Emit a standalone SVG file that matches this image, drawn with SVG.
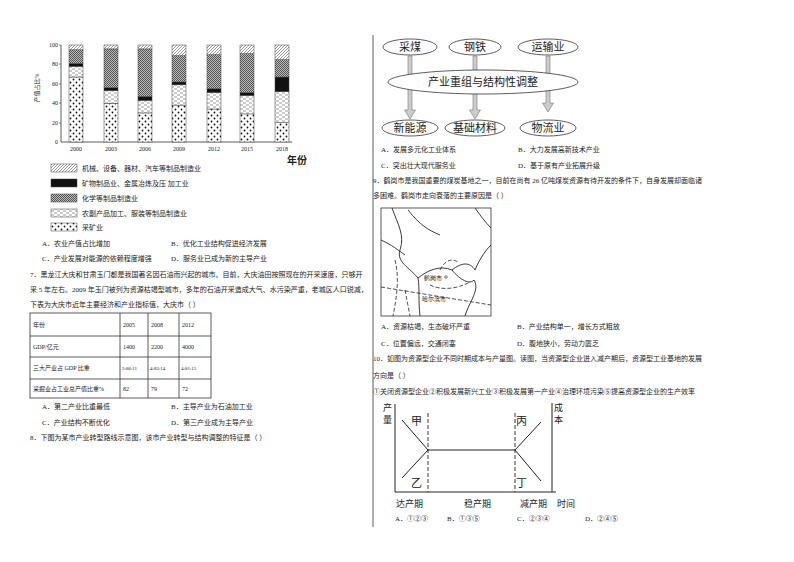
<svg xmlns="http://www.w3.org/2000/svg" width="794" height="562" viewBox="0 0 794 562">
<style>
text{font-family:"Liberation Serif","Noto Sans CJK SC",serif;fill:#222}
.t{font-size:7px}
.s{font-size:6px}
.e{fill:#fff;stroke:#333;stroke-width:0.8}
.big{font-size:11px}
.ln{stroke:#222;fill:none;stroke-width:0.9}
.cell{fill:none;stroke:#333;stroke-width:0.8}
.arr{fill:#ccc;stroke:#777;stroke-width:0.6}
</style>
<defs>
<pattern id="ph" width="3" height="3" patternUnits="userSpaceOnUse"><rect width="3" height="3" fill="#fff"/><path d="M0,3 L3,0" stroke="#555" stroke-width="0.6"/></pattern>
<pattern id="pc" width="2" height="2" patternUnits="userSpaceOnUse"><rect width="2" height="2" fill="#bbb"/><rect width="1" height="1" fill="#555"/><rect x="1" y="1" width="1" height="1" fill="#555"/></pattern>
<pattern id="pd" width="6" height="4" patternUnits="userSpaceOnUse"><rect width="6" height="4" fill="#fff"/><path d="M0,1 h3 M3,3 h3" stroke="#555" stroke-width="0.6"/></pattern>
<pattern id="pp" width="6" height="6" patternUnits="userSpaceOnUse"><rect width="6" height="6" fill="#fff"/><circle cx="1.5" cy="1.5" r="0.9" fill="#111"/><circle cx="4.5" cy="4.5" r="0.9" fill="#111"/></pattern>
</defs>
<rect width="794" height="562" fill="#fff"/>

<g id="chart1">
<line x1="61" y1="45" x2="61" y2="142" stroke="#333" stroke-width="0.8"/>
<line x1="61" y1="142" x2="292" y2="142" stroke="#333" stroke-width="0.8"/>
<g class="s" text-anchor="end">
<text x="58" y="47">100</text><text x="58" y="66">80</text><text x="58" y="86">60</text><text x="58" y="105">40</text><text x="58" y="125">20</text><text x="58" y="144">0</text>
</g>
<g stroke="#333" stroke-width="0.6">
<line x1="59" y1="45" x2="61" y2="45"/><line x1="59" y1="64" x2="61" y2="64"/><line x1="59" y1="84" x2="61" y2="84"/><line x1="59" y1="103" x2="61" y2="103"/><line x1="59" y1="123" x2="61" y2="123"/>
</g>
<text class="s" transform="translate(39,88) rotate(-90)" text-anchor="middle">产值占比%</text>
<g stroke="#444" stroke-width="0.5">
<rect x="69" y="77" width="14" height="65" fill="url(#pp)"/><rect x="69" y="66.3" width="14" height="10.7" fill="url(#pd)"/><rect x="69" y="63.4" width="14" height="2.9" fill="#111"/><rect x="69" y="49.8" width="14" height="13.6" fill="url(#pc)"/><rect x="69" y="45" width="14" height="4.8" fill="url(#ph)"/>
<rect x="104" y="103.2" width="14" height="38.8" fill="url(#pp)"/><rect x="104" y="90.6" width="14" height="12.6" fill="url(#pd)"/><rect x="104" y="87.7" width="14" height="2.9" fill="#111"/><rect x="104" y="48.9" width="14" height="38.8" fill="url(#pc)"/><rect x="104" y="45" width="14" height="3.9" fill="url(#ph)"/>
<rect x="138" y="112.9" width="14" height="29.1" fill="url(#pp)"/><rect x="138" y="100.3" width="14" height="12.6" fill="url(#pd)"/><rect x="138" y="96.4" width="14" height="3.9" fill="#111"/><rect x="138" y="48.9" width="14" height="47.5" fill="url(#pc)"/><rect x="138" y="45" width="14" height="3.9" fill="url(#ph)"/>
<rect x="172" y="105.1" width="14" height="36.9" fill="url(#pp)"/><rect x="172" y="84.8" width="14" height="20.3" fill="url(#pd)"/><rect x="172" y="81.9" width="14" height="2.9" fill="#111"/><rect x="172" y="55.7" width="14" height="26.2" fill="url(#pc)"/><rect x="172" y="45" width="14" height="10.7" fill="url(#ph)"/>
<rect x="207" y="109" width="14" height="33" fill="url(#pp)"/><rect x="207" y="92.5" width="14" height="16.5" fill="url(#pd)"/><rect x="207" y="88.7" width="14" height="3.8" fill="#111"/><rect x="207" y="54.7" width="14" height="34" fill="url(#pc)"/><rect x="207" y="45" width="14" height="9.7" fill="url(#ph)"/>
<rect x="240" y="113.9" width="14" height="28.1" fill="url(#pp)"/><rect x="240" y="95.4" width="14" height="18.5" fill="url(#pd)"/><rect x="240" y="92.5" width="14" height="2.9" fill="#111"/><rect x="240" y="53.7" width="14" height="38.8" fill="url(#pc)"/><rect x="240" y="45" width="14" height="8.7" fill="url(#ph)"/>
<rect x="275" y="122.6" width="14" height="19.4" fill="url(#pp)"/><rect x="275" y="91.6" width="14" height="31" fill="url(#pd)"/><rect x="275" y="77" width="14" height="14.6" fill="#111"/><rect x="275" y="59.6" width="14" height="17.4" fill="url(#pc)"/><rect x="275" y="45" width="14" height="14.6" fill="url(#ph)"/>
</g>
<g class="s" text-anchor="middle">
<text x="76" y="151">2000</text><text x="111" y="151">2003</text><text x="145" y="151">2006</text><text x="179" y="151">2009</text><text x="214" y="151">2012</text><text x="247" y="151">2015</text><text x="282" y="151">2018</text>
</g>
<text x="287" y="164" style="font-size:10px;font-weight:bold;font-family:'Liberation Sans','Noto Sans CJK SC',sans-serif">年份</text>
<g stroke="#444" stroke-width="0.5">
<rect x="51" y="164" width="26" height="8" fill="url(#ph)"/>
<rect x="51" y="179" width="26" height="8" fill="#111"/>
<rect x="51" y="194" width="26" height="8" fill="url(#pc)"/>
<rect x="51" y="209" width="26" height="8" fill="url(#pd)"/>
<rect x="51" y="223" width="26" height="8" fill="url(#pp)"/>
</g>
<g class="t">
<text x="82" y="171">机械、设备、器材、汽车等制品制造业</text>
<text x="82" y="186">矿物制品业、金属冶炼及压 加工业</text>
<text x="82" y="201">化学等制品制造业</text>
<text x="82" y="216">农副产品加工、服装等制品制造业</text>
<text x="82" y="230">采矿业</text>
</g>
</g>

<g id="left-text" class="t">
<text x="42" y="246">A．农业产值占比增加</text><text x="171" y="246">B．优化工业结构促进经济发展</text>
<text x="42" y="261">C．产业发展对能源的依赖程度增强</text><text x="171" y="261">D．服务业已成为新的主导产业</text>
<text x="30" y="277">7．黑龙江大庆和甘肃玉门都是我国著名因石油而兴起的城市。目前，大庆油田按照现在的开采速度，只够开</text>
<text x="30" y="292">采 5 年左右。2009 年玉门被列为资源枯竭型城市，多年的石油开采造成大气、水污染严重，老城区人口锐减，</text>
<text x="30" y="307">下表为大庆市近年主要经济和产业指标值，大庆市（   ）</text>
</g>
<g id="table">
<rect class="cell" x="30" y="313" width="181" height="85"/>
<line class="cell" x1="30" y1="336" x2="211" y2="336"/><line class="cell" x1="30" y1="357" x2="211" y2="357"/><line class="cell" x1="30" y1="379" x2="211" y2="379"/>
<line class="cell" x1="120" y1="313" x2="120" y2="398"/><line class="cell" x1="148" y1="313" x2="148" y2="398"/><line class="cell" x1="179" y1="313" x2="179" y2="398"/>
<g class="s">
<text x="33" y="327">年份</text><text x="123" y="327">2005</text><text x="151" y="327">2008</text><text x="182" y="327">2012</text>
<text x="33" y="349">GDP/亿元</text><text x="123" y="349">1400</text><text x="151" y="349">2200</text><text x="182" y="349">4000</text>
<text x="33" y="370">三大产业占 GDP 比重</text><text x="122" y="370" style="font-size:5px">3:86:11</text><text x="150" y="370" style="font-size:5px">4:82:14</text><text x="181" y="370" style="font-size:5px">4:81:15</text>
<text x="33" y="391">采掘业占工业总产值比重%</text><text x="123" y="391">82</text><text x="151" y="391">79</text><text x="182" y="391">72</text>
</g>
</g>
<g id="left-text2" class="t">
<text x="42" y="409">A．第二产业比重最低</text><text x="171" y="409">B．主导产业为石油加工业</text>
<text x="42" y="425">C．产业结构不断优化</text><text x="171" y="425">D．第三产业成为主导产业</text>
<text x="30" y="440">8．下图为某市产业转型路线示意图，该市产业转型与结构调整的特征是（   ）</text>
</g>

<line x1="373" y1="35" x2="373" y2="527" stroke="#333" stroke-width="0.8"/>

<g id="connectors">
<path class="arr" d="M408,56 H412 V110 H415.5 L410,119 L404.5,110 H408 Z"/>
<path class="arr" d="M473,56 H477 V110 H480.5 L475,119 L469.5,110 H473 Z"/>
<path class="arr" d="M546,56 H550 V103 H553.5 L548,112 L542.5,103 H546 Z"/>
</g>
<g id="n-caimei"><ellipse class="e" cx="410" cy="47" rx="27" ry="8"/><text class="big" x="410" y="51" text-anchor="middle">采煤</text></g>
<g id="n-gangtie"><ellipse class="e" cx="475" cy="47" rx="26" ry="8"/><text class="big" x="475" y="51" text-anchor="middle">钢铁</text></g>
<g id="n-yunshu"><ellipse class="e" cx="548" cy="47" rx="30" ry="8"/><text class="big" x="548" y="51" text-anchor="middle">运输业</text></g>
<g id="n-center"><ellipse class="e" cx="483" cy="82" rx="95" ry="12"/><text class="big" x="483" y="86" text-anchor="middle">产业重组与结构性调整</text></g>
<g id="n-xinneng"><ellipse class="e" cx="410" cy="128" rx="28" ry="8"/><text class="big" x="410" y="132" text-anchor="middle">新能源</text></g>
<g id="n-jichu"><ellipse class="e" cx="475" cy="128" rx="30" ry="8"/><text class="big" x="475" y="132" text-anchor="middle">基础材料</text></g>
<g id="n-wuliu"><ellipse class="e" cx="548" cy="128" rx="28" ry="8"/><text class="big" x="548" y="132" text-anchor="middle">物流业</text></g>

<g id="right-text" class="t">
<text x="381" y="152">A．发展多元化工业体系</text><text x="518" y="152">B．大力发展高新技术产业</text>
<text x="381" y="168">C．突出壮大现代服务业</text><text x="518" y="168">D．基于原有产业拓展升级</text>
<text x="373" y="183">9．鹤岗市是我国重要的煤炭基地之一，目前在尚有 26 亿吨煤炭资源有待开发的条件下，自身发展却面临诸</text>
<text x="373" y="198">多困难。鹤岗市走向衰落的主要原因是（   ）</text>
</g>
<g id="map">
<rect x="381" y="208" width="110" height="108" fill="#fff" stroke="#333" stroke-width="0.8"/>
<g class="ln" stroke-width="0.8">
<path d="M392,208 C398,225 405,235 400,250 C396,262 410,268 418,278 C428,270 440,265 452,270 C462,262 470,262 475,270 C480,258 486,250 491,245"/>
<path d="M381,240 C392,245 398,250 405,255"/>
<path d="M418,278 C420,290 418,300 420,316"/>
<path d="M452,270 C460,280 470,285 474,280 C480,290 470,300 465,316"/>
<path d="M475,208 C480,215 485,222 491,228"/>
<path d="M408,210 C420,225 428,230 440,235"/>
</g>
<g stroke="#222" stroke-width="0.8" stroke-dasharray="4,2" fill="none">
<path d="M381,287 L491,305"/>
<path d="M395,260 C400,280 396,300 393,316"/>
<path d="M405,290 L410,316"/>
<path d="M430,285 C440,290 455,290 470,282"/>
<path d="M440,270 C445,260 452,258 458,262"/>
</g>
<circle cx="446" cy="277" r="1.3" fill="#fff" stroke="#222" stroke-width="0.6"/>
<text class="s" x="424" y="280">鹤岗市</text>
<text class="s" x="422" y="301">哈尔滨市</text>
</g>
<g id="right-text2" class="t">
<text x="381" y="329">A．资源枯竭，生态破坏严重</text><text x="517" y="329">B．产业结构单一，增长方式粗放</text>
<text x="381" y="346">C．位置偏远，交通闭塞</text><text x="517" y="346">D．腹地狭小，劳动力匮乏</text>
<text x="373" y="361">10．如图为资源型企业不同时期成本与产量图。读图，当资源型企业进入减产期后，资源型工业基地的发展</text>
<text x="373" y="378">方向是（   ）</text>
<text x="373" y="394">①关闭资源型企业②积极发展新兴工业③积极发展第一产业④治理环境污染⑤提高资源型企业的生产效率</text>
</g>
<g id="chart2">
<line x1="395" y1="404" x2="395" y2="492" stroke="#222" stroke-width="1"/>
<line x1="395" y1="492" x2="556" y2="492" stroke="#222" stroke-width="1"/>
<line x1="552" y1="403" x2="552" y2="492" stroke="#222" stroke-width="1"/>
<line x1="428" y1="413" x2="428" y2="492" stroke="#222" stroke-width="0.9" stroke-dasharray="4,2"/>
<line x1="515" y1="413" x2="515" y2="492" stroke="#222" stroke-width="0.9" stroke-dasharray="4,2"/>
<g stroke="#222" stroke-width="1">
<line x1="428" y1="450" x2="515" y2="450"/>
<line x1="402" y1="420" x2="428" y2="450"/><line x1="402" y1="478" x2="428" y2="450"/>
<line x1="515" y1="450" x2="541" y2="422"/><line x1="515" y1="450" x2="541" y2="481"/>
</g>
<g style="font-size:9px">
<text x="383" y="411">产</text><text x="383" y="423">量</text>
<text x="554" y="411">成</text><text x="554" y="423">本</text>
<text x="411" y="425" style="font-size:11px">甲</text><text x="411" y="487" style="font-size:11px">乙</text>
<text x="516" y="425" style="font-size:11px">丙</text><text x="516" y="487" style="font-size:11px">丁</text>
<text x="396" y="507">达产期</text><text x="464" y="507">稳产期</text><text x="520" y="507">减产期</text><text x="557" y="507">时间</text>
</g>
<g class="t">
<text x="395" y="521">A．①②③</text><text x="447" y="521">B．①③⑤</text><text x="517" y="521">C．②③④</text><text x="585" y="521">D．②④⑤</text>
</g>
</g>
</svg>
